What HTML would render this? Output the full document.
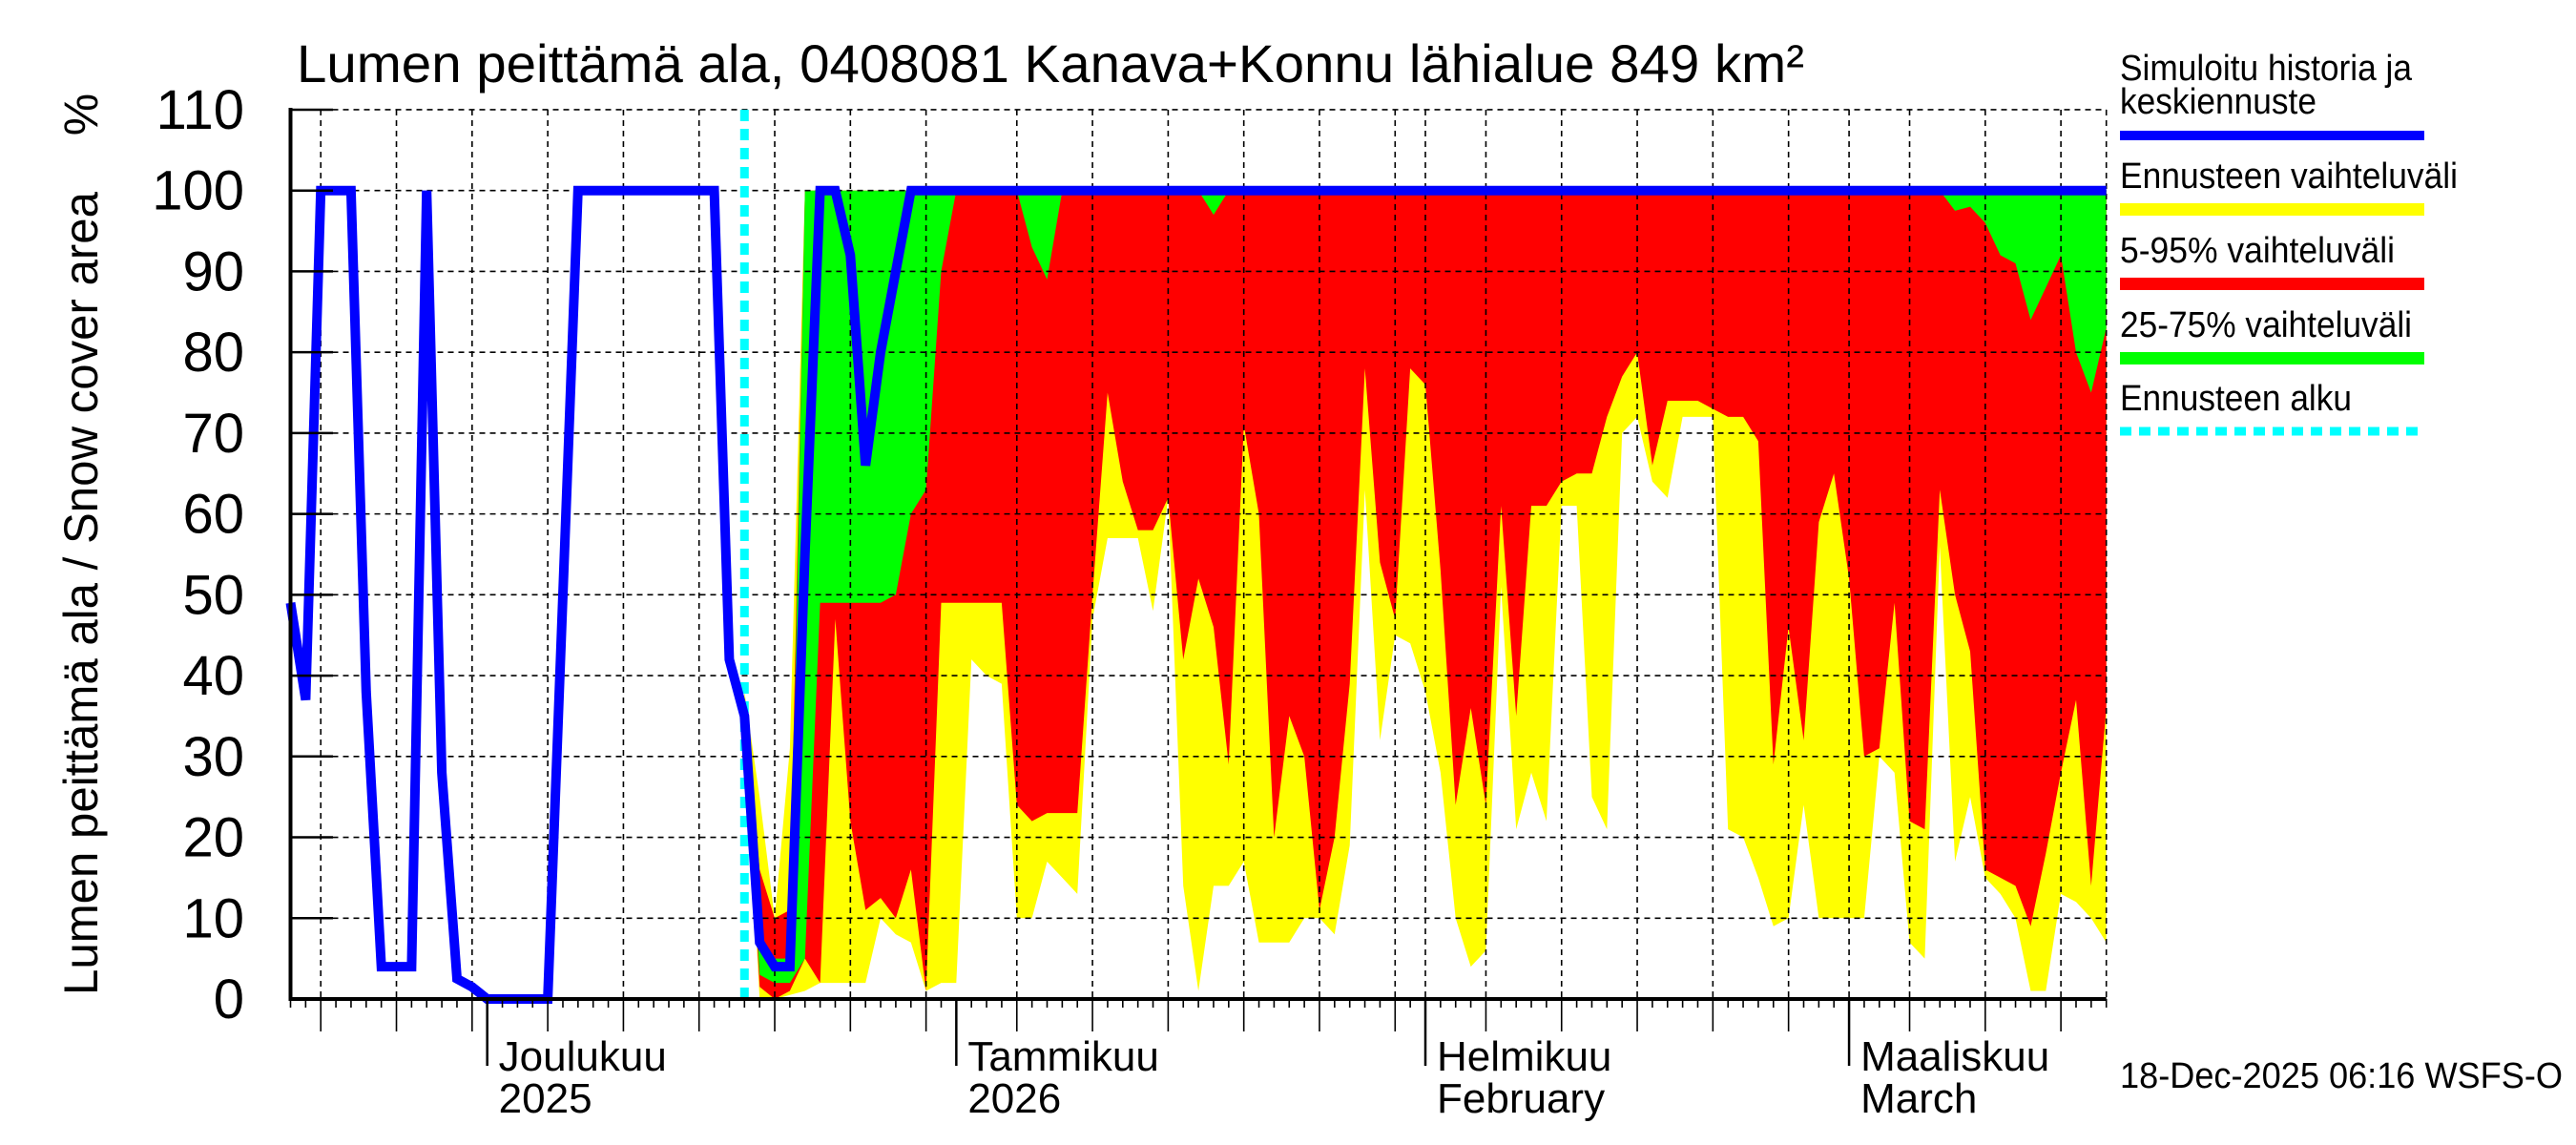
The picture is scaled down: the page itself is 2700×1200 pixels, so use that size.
<!DOCTYPE html>
<html><head><meta charset="utf-8"><style>
html,body{margin:0;padding:0;background:#fff;}
svg{display:block;}
text{font-family:"Liberation Sans",sans-serif;fill:#000;}
</style></head><body>
<svg id="chart" width="2700" height="1200" viewBox="0 0 2700 1200" xmlns="http://www.w3.org/2000/svg">
<g id="bands"></g>
<g id="grid"></g>
<g id="lines"></g>
<g id="axes"></g>
<text x="311" y="86" font-size="56" textLength="1580" lengthAdjust="spacingAndGlyphs">Lumen peittämä ala, 0408081 Kanava+Konnu lähialue 849 km²</text>
<text transform="translate(102,622) rotate(-90)" text-anchor="middle" font-size="50" textLength="842" lengthAdjust="spacingAndGlyphs">Lumen peittämä ala / Snow cover area</text>
<text transform="translate(102,120) rotate(-90)" text-anchor="middle" font-size="50">%</text>
<g>
<text x="2222" y="84" font-size="38" textLength="306" lengthAdjust="spacingAndGlyphs">Simuloitu historia ja</text>
<text x="2222" y="119" font-size="38" textLength="206" lengthAdjust="spacingAndGlyphs">keskiennuste</text>
<rect x="2222" y="137" width="319" height="10" fill="#0000ff"/>
<text x="2222" y="197" font-size="38" textLength="354" lengthAdjust="spacingAndGlyphs">Ennusteen vaihteluväli</text>
<rect x="2222" y="213" width="319" height="13" fill="#ffff00"/>
<text x="2222" y="275" font-size="38" textLength="288" lengthAdjust="spacingAndGlyphs">5-95% vaihteluväli</text>
<rect x="2222" y="291" width="319" height="13" fill="#ff0000"/>
<text x="2222" y="353" font-size="38" textLength="306" lengthAdjust="spacingAndGlyphs">25-75% vaihteluväli</text>
<rect x="2222" y="369" width="319" height="13" fill="#00ff00"/>
<text x="2222" y="430" font-size="38" textLength="243" lengthAdjust="spacingAndGlyphs">Ennusteen alku</text>
<line x1="2222" y1="452" x2="2541" y2="452" stroke="#00ffff" stroke-width="9" stroke-dasharray="12 8"/>
</g>
<text x="2222" y="1140" font-size="38" textLength="464" lengthAdjust="spacingAndGlyphs">18-Dec-2025 06:16 WSFS-O</text>
</svg>
<script>
// history (day 0 = 18 Nov 2025), days 0..30
const histVals = [49,37,100,100,100,38,4,4,4,100,28,2.5,1.5,0,0,0,0,0,50,100,100,100,100,100,100,100,100,100,100,42,35];
// forecast, days 30..120
const medianVals = [35,7,4,4,55,100,100,92,66,80,90,100,100,100,100,100,100,100,100,100,100,100,100,100,100,100,100,100,100,100,100,100,100,100,100,100,100,100,100,100,100,100,100,100,100,100,100,100,100,100,100,100,100,100,100,100,100,100,100,100,100,100,100,100,100,100,100,100,100,100,100,100,100,100,100,100,100,100,100,100,100,100,100,100,100,100,100,100,100,100,100];
const minVals = [35,0,0,0.5,1,2,2,2,2,10,8,7,1,2,2,42,40,39,10,10,17,15,13,47,57,57,57,48,62,14,1,14,14,17,7,7,7,10,10,8,19,63,32,45,44,38,28,10,4,6,51,21,28,22,61,61,25,21,70,72,64,62,72,72,72,21,20,15,9,10,24,10,10,10,10,30,28,7,5,56,17,25,15,13,10,1,1,13,12,10,7];
const p5Vals = [35,1.5,0,1,5,2,47,22,11,12.5,10,16,1,49,49,49,49,49,24,22,23,23,23,50,75,64,58,58,62,42,52,46,29,71,60,20,35,30,11,20,39,78,54,47,78,76,53,24,36,24,61,35,61,61,64,65,65,72,77,80,66,74,74,74,73,72,72,69,29,46,32,59,65,52,30,31,49,22,21,63,50,43,16,15,14,9,18,28,37,14,36];
const p25Vals = [35,3,2,2,5,49,49,49,49,49,50,60,63,90,100,100,100,100,100,93,89,100,100,100,100,100,100,100,100,100,100,97,100,100,100,100,100,100,100,100,100,100,100,100,100,100,100,100,100,100,100,100,100,100,100,100,100,100,100,100,100,100,100,100,100,100,100,100,100,100,100,100,100,100,100,100,100,100,100,100,97.5,98,96,92,91,84,88,92,80,75,83];
const p75Vals = [36,8,5,5,100,100,100,100,100,100,100,100,100,100,100,100,100,100,100,100,100,100,100,100,100,100,100,100,100,100,100,100,100,100,100,100,100,100,100,100,100,100,100,100,100,100,100,100,100,100,100,100,100,100,100,100,100,100,100,100,100,100,100,100,100,100,100,100,100,100,100,100,100,100,100,100,100,100,100,100,100,100,100,100,100,100,100,100,100,100,100];
const p95Vals = [37,16,10,11,100,100,100,100,100,100,100,100,100,100,100,100,100,100,100,100,100,100,100,100,100,100,100,100,100,100,100,100,100,100,100,100,100,100,100,100,100,100,100,100,100,100,100,100,100,100,100,100,100,100,100,100,100,100,100,100,100,100,100,100,100,100,100,100,100,100,100,100,100,100,100,100,100,100,100,100,100,100,100,100,100,100,100,100,100,100,100];
const maxVals = [38,25,10,31,100,100,100,100,100,100,100,100,100,100,100,100,100,100,100,100,100,100,100,100,100,100,100,100,100,100,100,100,100,100,100,100,100,100,100,100,100,100,100,100,100,100,100,100,100,100,100,100,100,100,100,100,100,100,100,100,100,100,100,100,100,100,100,100,100,100,100,100,100,100,100,100,100,100,100,100,100,100,100,100,100,100,100,100,100,100,100];
const yTicks = [0,10,20,30,40,50,60,70,80,90,100,110];
const forecastStart = 30;
const monthLabels = [["Joulukuu","2025"],["Tammikuu","2026"],["Helmikuu","February"],["Maaliskuu","March"]];
const monthStartDays = [13,44,75,103];

const NS = "http://www.w3.org/2000/svg";
const X = d => 304.5 + 15.86 * d;
const Y = v => 1047 - v * 8.473;
function mk(tag, attrs, parent){const e=document.createElementNS(NS,tag);for(const k in attrs)e.setAttribute(k,attrs[k]);parent.appendChild(e);return e;}

const bands = document.getElementById('bands');
function band(lo, hi, color, name){
  let pts=[];
  for(let i=0;i<hi.length;i++) pts.push(X(forecastStart+i).toFixed(1)+","+Y(hi[i]).toFixed(1));
  for(let i=lo.length-1;i>=0;i--) pts.push(X(forecastStart+i).toFixed(1)+","+Y(lo[i]).toFixed(1));
  const p = mk('polygon',{points:pts.join(" "),fill:color},bands);
  
  
}
band(minVals, maxVals, '#ffff00', 'band-range');
band(p5Vals, p95Vals, '#ff0000', 'band-5-95');
band(p25Vals, p75Vals, '#00ff00', 'band-25-75');

const grid = document.getElementById('grid');
const gridDays=[];
const dates=[];
{const ml=[[11,30],[12,31],[1,31],[2,28],[3,31]];let m=0,dd=18;
 for(let d=0;d<=120;d++){dates.push([ml[m][0],dd]);dd++;if(dd>ml[m][1]){dd=1;m++;}}}
dates.forEach((md,d)=>{const day=md[1];if(day%5===0||(day===1&&(md[0]===2||md[0]===3)))gridDays.push(d);});
gridDays.forEach(d=>{
  const l=mk('line',{x1:X(d),y1:Y(110),x2:X(d),y2:Y(0),stroke:'#000','stroke-width':1.6,'stroke-dasharray':'6 5'},grid);
  
  
});
mk('line',{x1:X(120),y1:Y(110),x2:X(120),y2:Y(0),stroke:'#000','stroke-width':1.6,'stroke-dasharray':'6 5'},grid);
yTicks.forEach(v=>{
  if(v===0)return;
  const l=mk('line',{x1:X(0),y1:Y(v),x2:X(120),y2:Y(v),stroke:'#000','stroke-width':1.6,'stroke-dasharray':'6 5'},grid);
  
  
});

const lines = document.getElementById('lines');
const fs = mk('line',{x1:X(forecastStart),y1:Y(110),x2:X(forecastStart),y2:Y(0),stroke:'#00ffff','stroke-width':9,'stroke-dasharray':'12 8'},lines);


let bp=[];
histVals.forEach((v,i)=>bp.push(X(i).toFixed(1)+","+Y(v).toFixed(1)));
medianVals.forEach((v,i)=>{if(i>0)bp.push(X(forecastStart+i).toFixed(1)+","+Y(v).toFixed(1));});
const bl = mk('polyline',{points:bp.join(" "),fill:'none',stroke:'#0000ff','stroke-width':10,'stroke-linejoin':'miter'},lines);



const axes = document.getElementById('axes');
mk('line',{x1:X(0),y1:Y(110)-2,x2:X(0),y2:Y(0)+2,stroke:'#000','stroke-width':4},axes);
mk('line',{x1:X(0),y1:Y(0),x2:X(120),y2:Y(0),stroke:'#000','stroke-width':4},axes);
yTicks.forEach(v=>{
  mk('line',{x1:X(0),y1:Y(v),x2:349,y2:Y(v),stroke:'#000','stroke-width':2.5},axes);
  const t=mk('text',{x:256,y:Y(v)+20,'text-anchor':'end','font-size':58},axes);
  t.textContent=v;
  
  
});
for(let d=0;d<=120;d++){
  const isG=gridDays.includes(d);
  mk('line',{x1:X(d),y1:Y(0),x2:X(d),y2:isG?1081:1056,stroke:'#000','stroke-width':1.6},axes);
}
monthStartDays.forEach((d,i)=>{
  mk('line',{x1:X(d),y1:Y(0),x2:X(d),y2:1117,stroke:'#000','stroke-width':2.5},axes);
  const t1=mk('text',{x:X(d)+12,y:1122,'font-size':44},axes);
  t1.textContent=monthLabels[i][0];
  
  
  const t2=mk('text',{x:X(d)+12,y:1166,'font-size':44},axes);
  t2.textContent=monthLabels[i][1];
  
  
});
</script>
</body></html>
